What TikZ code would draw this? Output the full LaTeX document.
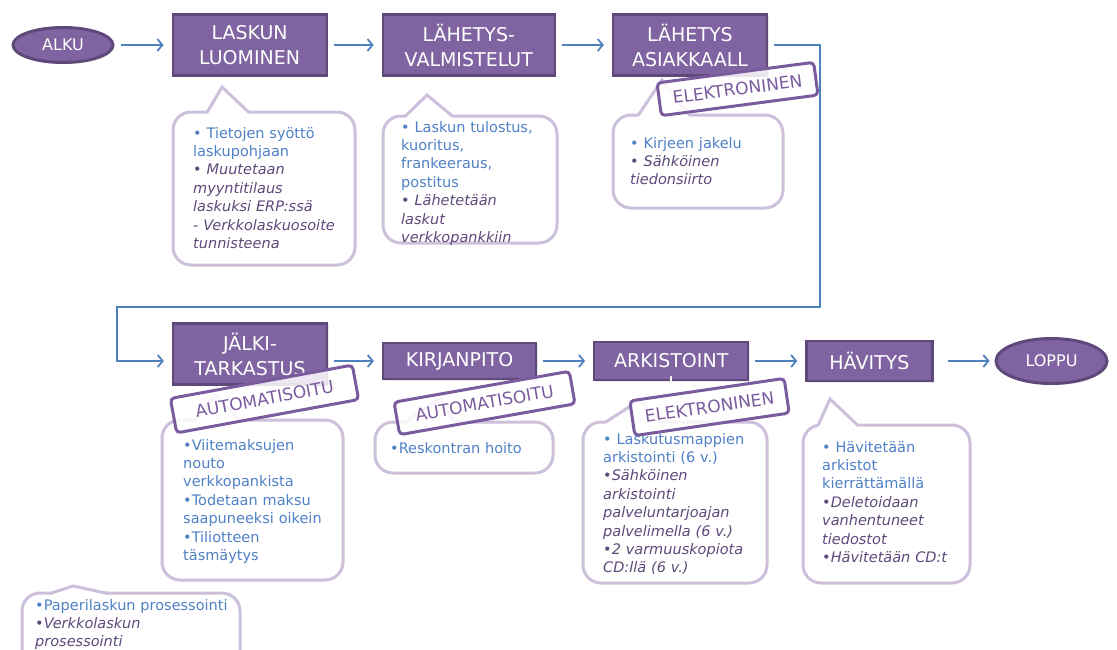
\documentclass[tikz,border=0pt]{standalone}
\usepackage{fontspec}
\setmainfont{DejaVu Sans}
\usepackage{xcolor}
\usetikzlibrary{shapes.geometric, arrows.meta, positioning, shadows}

\definecolor{boxfill}{HTML}{8064A2}
\definecolor{boxedge}{HTML}{5F497A}
\definecolor{flowblue}{HTML}{4F81BD}
\definecolor{notetext}{HTML}{4F81C6}
\definecolor{noteplum}{HTML}{5F497A}
\definecolor{bubbleline}{HTML}{CCC0DA}
\definecolor{stampline}{HTML}{7A5C9E}

% speech bubble: x1, y1, x2, y2, tail left, tip x, tip y, tail right
\newcommand{\bubble}[8]{%
  \draw[bubble] (#1,#2) rectangle (#3,#4);
  \fill[white] (#5,{#2+2}) -- (#6,#7) -- (#8,{#2+2}) -- cycle;
  \draw[bubble, fill=none, rounded corners=0pt] (#5,{#2+0.5}) -- (#6,#7) -- (#8,{#2+0.5});
}

\begin{document}
\begin{tikzpicture}[
  x=1pt, y=-1pt,
  stepbox/.style={draw=boxedge, line width=2.2pt, fill=boxfill, text=white, align=center,
                  inner sep=0pt, font=\fontsize{19}{25}\selectfont,
                  drop shadow={opacity=.2, shadow xshift=1.5pt, shadow yshift=-1.5pt}},
  endpt/.style={stepbox, ellipse, line width=3pt, font=\fontsize{16}{20}\selectfont},
  flow/.style={-{Straight Barb[length=5pt, width=12pt]}, line width=1.8pt, draw=flowblue,
               shorten <=6pt, shorten >=8pt},
  bubble/.style={draw=bubbleline, line width=3pt, fill=white, rounded corners=18pt},
  note/.style={anchor=base west, inner sep=0pt, align=left, text=notetext,
               font=\fontsize{14.5}{18.4}\selectfont},
  stamp/.style={draw=stampline, line width=3pt, rounded corners=4pt, fill=white, fill opacity=.85,
                text opacity=1, text=stampline, font=\fontsize{17}{20}\selectfont,
                inner sep=0pt, minimum height=33pt},
]
  \useasboundingbox (0,0) rectangle (1117,649);

  % upper row
  \node[endpt, minimum width=100pt, minimum height=35pt] (alku) at (63,45) {ALKU};
  \node[stepbox, minimum width=154pt, minimum height=61pt, right=57pt of alku] (luonti) {LASKUN\\LUOMINEN};
  \node[stepbox, minimum width=172pt, minimum height=61pt, right=54pt of luonti] (valmistelu) {LÄHETYS-\\VALMISTELUT};
  \node[stepbox, minimum width=154pt, minimum height=61pt, right=56pt of valmistelu] (lahetys) {LÄHETYS\\ASIAKKAALL};

  % lower row
  \node[stepbox, minimum width=154pt, minimum height=61pt] (tarkastus) at (250,354) {JÄLKI-\\TARKASTUS};
  \node[stepbox, minimum width=153pt, minimum height=36pt] (kirjanpito) at (459.5,361) {KIRJANPITO};
  \node[stepbox, minimum width=154pt, minimum height=38pt, right=56pt of kirjanpito,
        label={[text=white, font=\fontsize{19}{25}\selectfont, inner sep=0pt, yshift=5pt]below:I}] (arkistointi) {ARKISTOINT};
  \node[stepbox, minimum width=126pt, minimum height=40pt, right=56pt of arkistointi] (havitys) {HÄVITYS};
  \node[endpt, minimum width=111pt, minimum height=45pt, right=61pt of havitys] (loppu) {LOPPU};

  \draw[flow] (alku) -- (luonti);
  \draw[flow] (luonti) -- (valmistelu);
  \draw[flow] (valmistelu) -- (lahetys);
  \coordinate (paluu) at (117,307);
  \draw[flow] (lahetys.east) -- ++(52,0) |- (paluu) |- (tarkastus.west |- kirjanpito);
  \draw[flow] (tarkastus.east |- kirjanpito) -- (kirjanpito);
  \draw[flow] (kirjanpito) -- (arkistointi);
  \draw[flow] (arkistointi) -- (havitys);
  \draw[flow, shorten <=14pt, shorten >=5pt] (havitys) -- (loppu);

  % notes
  \bubble{173}{112}{355}{265}{207}{222}{87}{249}
  \node[note, text width=160pt] (luontitxt) at (193,138) {• Tietojen syöttö\\laskupohjaan\\\color{noteplum}\itshape • Muutetaan\\myyntitilaus\\laskuksi ERP:ssä\\- Verkkolaskuosoite\\tunnisteena};

  \bubble{383}{116}{557}{243}{405}{427}{95}{453}
  \node[note, text width=150pt] (valmtxt) at (401,132) {• Laskun tulostus,\\kuoritus,\\frankeeraus,\\postitus\\\color{noteplum}\itshape • Lähetetään\\laskut\\verkkopankkiin};

  \bubble{613}{115}{783}{208}{638}{662}{80}{690}
  \node[note, text width=145pt] (lahtxt) at (630,148) {• Kirjeen jakelu\\\color{noteplum}\itshape • Sähköinen\\tiedonsiirto};

  \bubble{162}{420}{343}{580}{195}{215}{395}{240}
  \node[note, text width=155pt] (tarktxt) at (183,450) {•Viitemaksujen\\nouto\\verkkopankista\\•Todetaan maksu\\saapuneeksi oikein\\•Tiliotteen\\täsmäytys};

  \bubble{375}{422}{553}{473}{405}{440}{398}{455}
  \node[note, text width=155pt] (kirjtxt) at (390,453) {•Reskontran hoito};

  \bubble{583}{422}{767}{583}{605}{640}{400}{660}
  \node[note, text width=162pt] (arktxt) at (603,444) {• Laskutusmappien\\arkistointi (6 v.)\\\color{noteplum}\itshape •Sähköinen\\arkistointi\\palveluntarjoajan\\palvelimella (6 v.)\\•2 varmuuskopiota\\CD:llä (6 v.)};

  \bubble{803}{425}{970}{583}{818}{830}{399}{858}
  \node[note, text width=145pt] (havtxt) at (822,452) {• Hävitetään\\arkistot\\kierrättämällä\\\color{noteplum}\itshape •Deletoidaan\\vanhentuneet\\tiedostot\\•Hävitetään CD:t};

  \bubble{22}{593}{240}{680}{50}{73}{586}{108}
  \node[note, text width=215pt] (prostxt) at (35,610) {•Paperilaskun prosessointi\\\color{noteplum}\itshape •Verkkolaskun\\prosessointi};

  % stamps
  \node[stamp, rotate=7.5, minimum width=158pt] (sahko1) at (737.5,89) {ELEKTRONINEN};
  \node[stamp, rotate=10.4, minimum width=185pt, minimum height=35pt] (auto1) at (264.5,399) {AUTOMATISOITU};
  \node[stamp, rotate=10, minimum width=178pt] (auto2) at (484.5,403) {AUTOMATISOITU};
  \node[stamp, rotate=8.3, minimum width=156pt, minimum height=35pt] (sahko2) at (709.5,407) {ELEKTRONINEN};

\end{tikzpicture}
\end{document}
